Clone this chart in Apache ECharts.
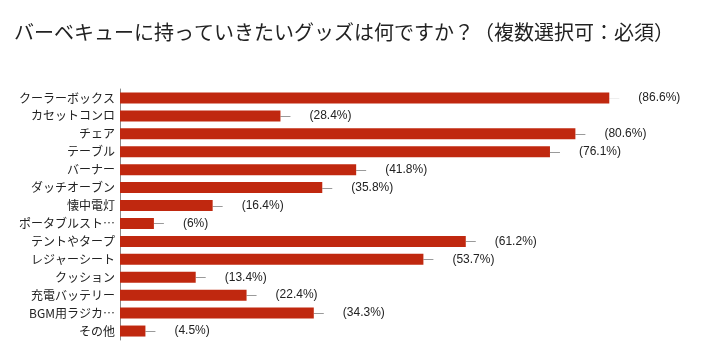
<!DOCTYPE html>
<html>
<head>
<meta charset="utf-8">
<script src="https://cdn.jsdelivr.net/npm/echarts@6/dist/echarts.min.js"></script>
<style>
  html, body { margin: 0; padding: 0; background: #fff; }
  #chart { width: 704px; height: 346px; }
</style>
</head>
<body>
<div id="chart"></div>
<script>
// Survey answers: items people want to bring to a barbecue (percent of respondents)
const titleText = 'バーベキューに持っていきたいグッズは何ですか？（複数選択可：必須）';
const categories = [
  'クーラーボックス', 'カセットコンロ', 'チェア', 'テーブル', 'バーナー',
  'ダッチオーブン', '懐中電灯', 'ポータブルスト…', 'テントやタープ', 'レジャーシート',
  'クッション', '充電バッテリー', 'BGM用ラジカ…', 'その他'
];
const percents = [86.6, 28.4, 80.6, 76.1, 41.8, 35.8, 16.4, 6, 61.2, 53.7, 13.4, 22.4, 34.3, 4.5];

const JP = '"Noto Sans CJK JP", "Liberation Sans", sans-serif';
const NUM = '"Liberation Sans", Arial, sans-serif';

const chart = echarts.init(document.getElementById('chart'), null, { renderer: 'canvas' });

chart.setOption({
  animation: false,
  backgroundColor: '#ffffff',
  title: {
    text: titleText,
    left: 9,
    top: 17,
    textStyle: { fontFamily: JP, fontSize: 20, fontWeight: 'normal', color: '#222' }
  },
  grid: { left: 120, top: 89, width: 565, height: 251, containLabel: false },
  xAxis: {
    type: 'value', min: 0, max: 100,
    show: false
  },
  yAxis: {
    type: 'category',
    data: categories,
    inverse: true,
    axisLine: { show: true, lineStyle: { color: '#8a8a8a', width: 1 } },
    axisTick: { show: false },
    axisLabel: { fontFamily: JP, fontSize: 12, color: '#222', margin: 5 }
  },
  series: [
    {
      type: 'bar',
      data: percents,
      barWidth: 11,
      itemStyle: { color: '#c0280f' },
      label: {
        show: true,
        position: 'right',
        distance: 29,
        formatter: p => '(' + p.value + '%)',
        fontFamily: NUM,
        fontSize: 12,
        color: '#222'
      },
      z: 2
    },
    {
      // short whisker lines drawn to the right of each bar end
      type: 'custom',
      data: percents.map((v, i) => [v, i]),
      encode: { x: 0, y: 1 },
      renderItem: (params, api) => {
        const pt = api.coord([api.value(0), api.value(1)]);
        const y = Math.round(pt[1]) + 0.5;
        return {
          type: 'line',
          shape: { x1: pt[0], y1: y, x2: pt[0] + 10, y2: y },
          style: { stroke: params.dataIndex === 0 ? '#eeeeee' : '#9a9a9a', lineWidth: 1 },
          silent: true
        };
      },
      z: 1
    }
  ]
});
</script>
</body>
</html>
